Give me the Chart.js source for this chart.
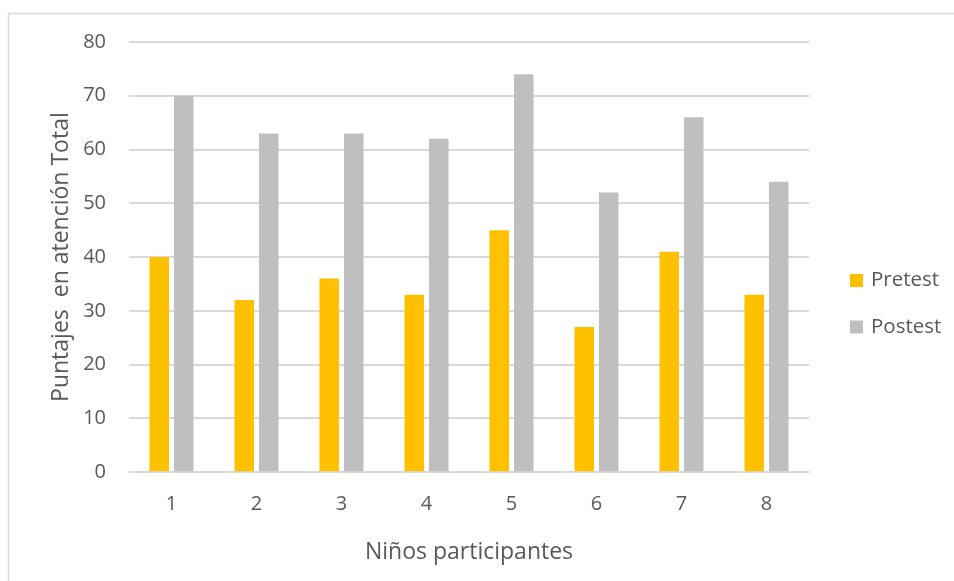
<!DOCTYPE html>
<html>
<head>
<meta charset="utf-8">
<script src="https://cdn.jsdelivr.net/npm/chart.js@4"></script>
<style>
  html, body { margin: 0; padding: 0; background: #ffffff; overflow: hidden; }
  #wrap { position: absolute; left: 0; top: 0; width: 954px; height: 581px; }
</style>
</head>
<body>
<div id="wrap"><canvas id="chart" width="954" height="581"></canvas></div>
<script>
// Participant numbers and scores (attention total) before and after the program
const categories = ['1', '2', '3', '4', '5', '6', '7', '8'];
const pretest = [40, 32, 36, 33, 45, 27, 41, 33];
const postest = [70, 63, 63, 62, 74, 52, 66, 54];
const seriesNames = ['Pretest', 'Postest'];
const seriesColors = ['#FFC000', '#BFBFBF'];

const FONT = "'Open Sans', 'Noto Sans', sans-serif";
const TEXT = '#595959';
const GRID = '#D9D9D9';

// Thin frame around the whole chart
const framePlugin = {
  id: 'frame',
  beforeDraw(chart) {
    const ctx = chart.ctx;
    ctx.save();
    ctx.fillStyle = '#ffffff';
    ctx.fillRect(0, 0, chart.width, chart.height);
    ctx.strokeStyle = GRID;
    ctx.lineWidth = 1.5;
    ctx.strokeRect(8.5, 13.5, chart.width + 40, chart.height + 40);
    ctx.restore();
  }
};

// Legend to the right of the plot, squares followed by the series names
const sideLegend = {
  id: 'sideLegend',
  afterDraw(chart) {
    const ctx = chart.ctx;
    const area = chart.chartArea;
    const x0 = area.right + 41;
    const yStart = area.top + 238.5;
    const gap = 46.5;
    const box = 13;
    ctx.save();
    ctx.font = '20.5px ' + FONT;
    ctx.textBaseline = 'middle';
    ctx.textAlign = 'left';
    chart.data.datasets.forEach((ds, i) => {
      const yc = yStart + i * gap;
      ctx.fillStyle = ds.backgroundColor;
      ctx.fillRect(x0, yc - box / 2, box, box);
      ctx.fillStyle = TEXT;
      ctx.fillText(ds.label, x0 + box + 8, yc);
    });
    ctx.restore();
  }
};

new Chart(document.getElementById('chart'), {
  type: 'bar',
  data: {
    labels: categories,
    datasets: [
      { label: seriesNames[0], data: pretest, backgroundColor: seriesColors[0] },
      { label: seriesNames[1], data: postest, backgroundColor: seriesColors[1] }
    ]
  },
  options: {
    responsive: false,
    animation: false,
    categoryPercentage: 0.577,
    barPercentage: 0.796,
    layout: { padding: { left: 0, right: 145, top: 42, bottom: 14.7 } },
    plugins: {
      legend: { display: false },
      tooltip: { enabled: false }
    },
    scales: {
      x: {
        grid: { display: false },
        border: { display: false },
        ticks: { color: TEXT, font: { family: FONT, size: 20 }, padding: 12.5 },
        title: {
          display: true,
          text: 'Niños participantes',
          color: TEXT,
          font: { family: FONT, size: 23 },
          padding: { top: 9.5, bottom: 0 }
        }
      },
      y: {
        min: 0,
        max: 80,
        afterFit(scale) { scale.width = 129; },
        grid: { color: GRID, lineWidth: 2, drawTicks: false },
        border: { display: false },
        ticks: { stepSize: 10, color: TEXT, font: { family: FONT, size: 20 }, padding: 23 },
        title: {
          display: true,
          text: 'Puntajes  en atención Total',
          color: TEXT,
          font: { family: FONT, size: 23 },
          padding: { top: 48, bottom: 0 }
        }
      }
    }
  },
  plugins: [framePlugin, sideLegend]
});
</script>
</body>
</html>
